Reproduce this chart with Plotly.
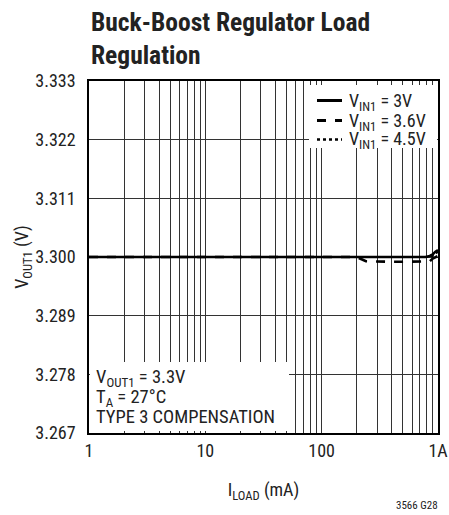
import plotly.graph_objects as go

# Data
iload_ma = [1, 2, 5, 10, 20, 50, 100, 200, 240, 300, 400, 500, 600, 700, 780, 850, 900, 950, 1000]
vout_3v0 = [3.3000, 3.3000, 3.3000, 3.3000, 3.3000, 3.3000, 3.3000, 3.3000, 3.3000, 3.3000,
            3.3000, 3.3000, 3.3000, 3.3000, 3.3000, 3.3002, 3.3005, 3.3010, 3.3013]
vout_3v6 = [3.3000, 3.3000, 3.3000, 3.3000, 3.3000, 3.3000, 3.3000, 3.3000, 3.2992, 3.2991,
            3.2991, 3.2991, 3.2991, 3.2991, 3.2991, 3.2992, 3.2997, 3.3000, 3.3002]
vout_4v5 = [3.3000, 3.3000, 3.3000, 3.3000, 3.3000, 3.3000, 3.3000, 3.3000, 3.3000, 3.3000,
            3.3000, 3.3000, 3.3000, 3.3000, 3.3000, 3.3000, 3.3002, 3.3006, 3.3010]

series_names = ["V<sub>IN1</sub> = 3V", "V<sub>IN1</sub> = 3.6V", "V<sub>IN1</sub> = 4.5V"]
series_dash = ["solid", "dash", "dot"]

y_ticks = [3.267, 3.278, 3.289, 3.300, 3.311, 3.322, 3.333]
y_ticklabels = ["3.267", "3.278", "3.289", "3.300", "3.311", "3.322", "3.333"]
x_major = [1, 10, 100, 1000]
x_major_labels = ["1", "10", "100", "1A"]

FONT = "Liberation Sans Narrow, Roboto Condensed, Arial Narrow, Liberation Sans, Arial, sans-serif"
TXT = "#222"

W, H = 449, 515
ML, MR, MT, MB = 89, 11, 81, 82
PW, PH = W - ML - MR, H - MT - MB


def px(xp):
    return (xp - ML) / PW


def py(yp):
    return (H - MB - yp) / PH


x_grid = [m * d for d in (1, 10, 100) for m in range(1, 10)] + [1000]
x_text = [x_major_labels[x_major.index(v)] if v in x_major else "" for v in x_grid]

fig = go.Figure()
series_vals = [vout_3v0, vout_3v6, vout_4v5]
widths = [2.6, 2.6, 2.2]
for name, vals, dash, w in reversed(list(zip(series_names, series_vals, series_dash, widths))):
    fig.add_trace(go.Scatter(x=iload_ma, y=vals, mode="lines", name=name, showlegend=False,
                             line=dict(color="black", width=w, dash=dash)))

fig.update_layout(
    width=W, height=H,
    margin=dict(l=ML, r=MR, t=MT, b=MB),
    paper_bgcolor="white", plot_bgcolor="white",
    font=dict(family=FONT, size=18, color=TXT),
    showlegend=False,
    xaxis=dict(type="log", range=[0, 3], tickmode="array", tickvals=x_grid, ticktext=x_text,
               showgrid=True, gridcolor="#333", gridwidth=1, showline=True, linecolor="black",
               linewidth=1.5, mirror=True, ticks="", zeroline=False, automargin=False,
               ticklabelstandoff=1,
               title=dict(text="I<sub>LOAD</sub> (mA)", standoff=23, font=dict(size=18))),
    yaxis=dict(range=[3.267, 3.333], tickmode="array", tickvals=y_ticks, ticktext=y_ticklabels,
               showgrid=True, gridcolor="#333", gridwidth=1, showline=True, linecolor="black",
               linewidth=1.5, mirror=True, ticks="", zeroline=False, automargin=False,
               ticklabelstandoff=8,
               title=dict(text="V<sub>OUT1</sub> (V)", standoff=2, font=dict(size=18))),
)

# Title
fig.add_annotation(xref="paper", yref="paper", x=0, y=1.0, yshift=9, xanchor="left", yanchor="bottom",
                   text="<b>Buck-Boost Regulator Load<br>Regulation</b>", showarrow=False, align="left",
                   font=dict(family=FONT, size=25.5, color=TXT))

# Legend (white panel covering the grid, line samples and labels)
fig.add_shape(type="rect", xref="paper", yref="paper", x0=px(309), x1=px(437), y0=py(148), y1=py(85),
              fillcolor="white", line=dict(width=0), layer="above")
leg_line_y = [100.5, 120.5, 139.5]
leg_text_y = [99, 118.5, 137]
for name, dash, w, ly, ty in zip(series_names, series_dash, widths, leg_line_y, leg_text_y):
    fig.add_shape(type="line", xref="paper", yref="paper", x0=px(317), x1=px(342), y0=py(ly), y1=py(ly),
                  line=dict(color="black", width=w + 0.4, dash=dash), layer="above")
    fig.add_annotation(xref="paper", yref="paper", x=px(347), y=py(ty), yshift=-3, xanchor="left",
                       yanchor="middle", text=name, showarrow=False, align="left",
                       font=dict(family=FONT, size=18, color=TXT))

# Conditions box
fig.add_shape(type="rect", xref="paper", yref="paper", x0=px(90), x1=px(289), y0=py(431), y1=py(362),
              fillcolor="white", line=dict(width=0), layer="above")
cond_lines = ["V<sub>OUT1</sub> = 3.3V", "T<sub>A</sub> = 27°C", "TYPE 3 COMPENSATION"]
cond_y = [375, 394.5, 416.5]
cond_shift = [-3, -3, 0]
for t, cy, sh in zip(cond_lines, cond_y, cond_shift):
    fig.add_annotation(xref="paper", yref="paper", x=px(94), y=py(cy), yshift=sh, xanchor="left",
                       yanchor="middle", text=t, showarrow=False, align="left",
                       font=dict(family=FONT, size=18.5, color=TXT))

fig.add_annotation(xref="paper", yref="paper", x=px(440), y=py(505), xanchor="right", yanchor="middle",
                   text="3566 G28", showarrow=False, font=dict(family=FONT, size=11, color=TXT))

fig.write_html("out.html", config={"displayModeBar": False},
               post_script="document.body.style.margin='0';")
